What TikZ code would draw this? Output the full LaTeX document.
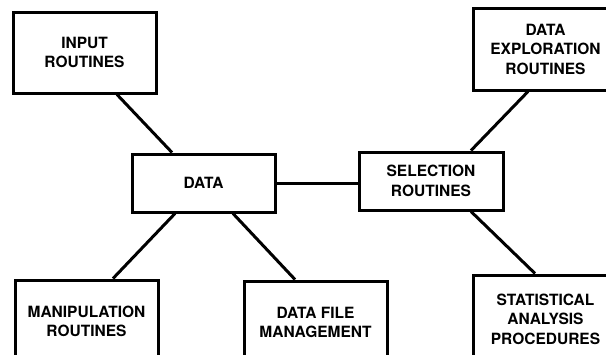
\documentclass[tikz,border=0pt]{standalone}
\usepackage{fontspec}
\setmainfont{TeX Gyre Heros}
\tikzset{
    box/.style={draw, line width=3pt, align=center, inner sep=2pt,
        font=\bfseries\fontsize{15.5}{19.5}\selectfont},
    link/.style={line width=3pt}
}
\begin{document}
\begin{tikzpicture}[x=1pt, y=-1pt]
            \clip (0, 0) rectangle (606, 354);

            %%centre
            \node[box, minimum width=143pt, minimum height=58pt] (data) at (203.5, 183){DATA};
            \node[box, minimum width=144pt, minimum height=58pt] (sel) at (431, 181){SELECTION\\ROUTINES};

            %%top row
            \node[box, minimum width=143pt, minimum height=81pt] (input) at (84.5, 52.5){INPUT\\ROUTINES};
            \node[box, minimum width=145pt, minimum height=82pt] (explore) at (545.5, 49){DATA\\EXPLORATION\\ROUTINES};

            %%bottom row
            \node[box, minimum width=143pt, minimum height=83pt] (manip) at (86.5, 321.5){MANIPULATION\\ROUTINES};
            \node[box, minimum width=143pt, minimum height=83pt] (files) at (315.5, 322.5){DATA FILE\\MANAGEMENT};
            \node[box, minimum width=145pt, minimum height=88pt] (stats) at (545.5, 319){STATISTICAL\\ANALYSIS\\PROCEDURES};

            %%links
            \draw[link]([xshift=32.5pt]input.south) to ([xshift=-31.5pt]data.north);
            \draw[link](data.east) to (data.east -| sel.west);
            \draw[link]([xshift=-17.5pt]explore.south) to ([xshift=40pt]sel.north);
            \draw[link]([xshift=-28.5pt]data.south) to ([xshift=26.5pt]manip.north);
            \draw[link]([xshift=29.5pt]data.south) to ([xshift=-20.5pt]files.north);
            \draw[link]([xshift=40pt]sel.south) to ([xshift=-10.5pt]stats.north);
\end{tikzpicture}
\end{document}
